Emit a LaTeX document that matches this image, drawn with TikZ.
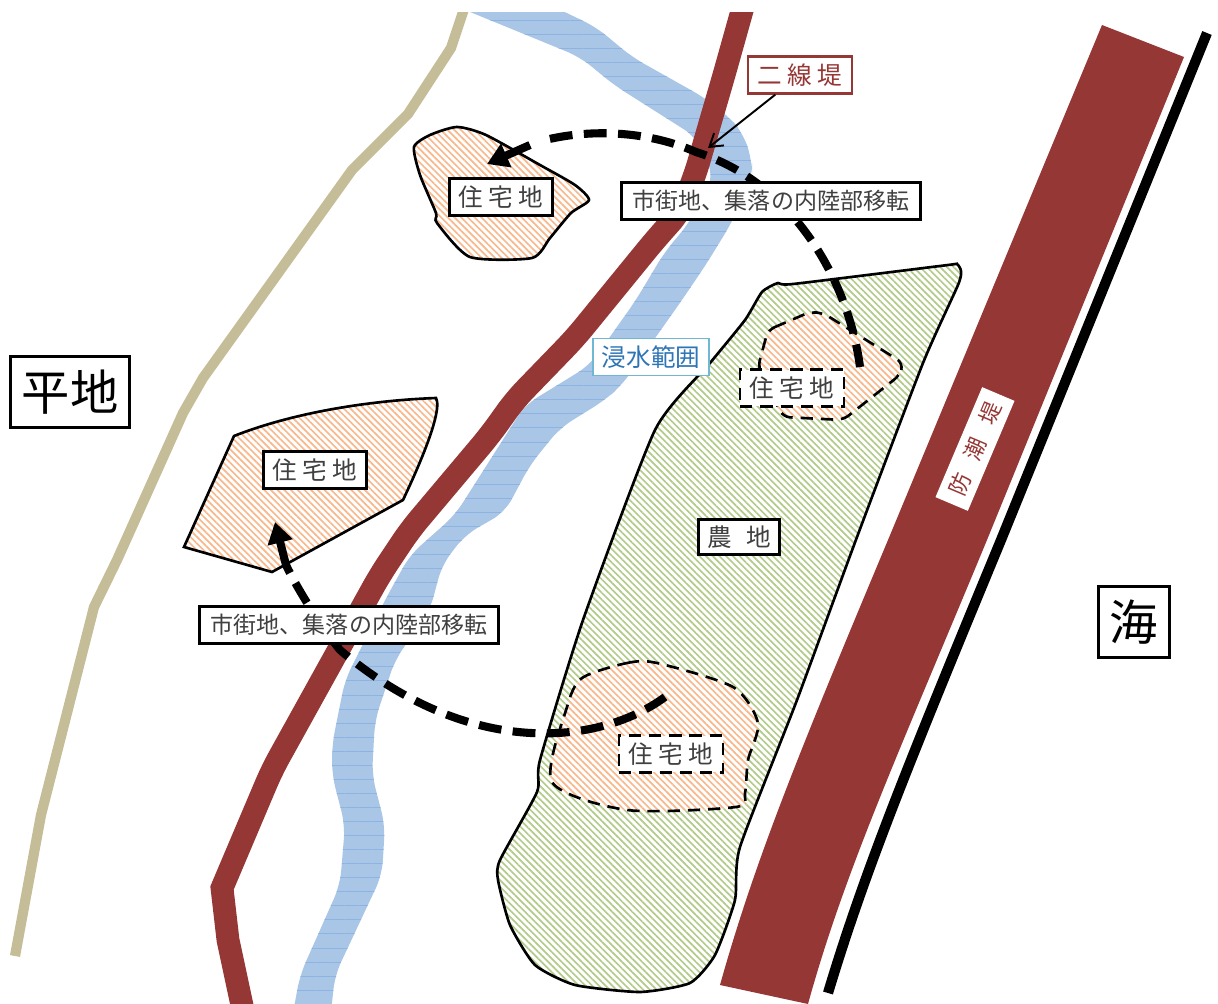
\documentclass[tikz,border=0pt]{standalone}
\usepackage{fontspec}
\setmainfont{Noto Sans CJK JP}
\usetikzlibrary{patterns.meta,arrows.meta}
\definecolor{dikered}{HTML}{953735}
\definecolor{hillbeige}{HTML}{C4BD97}
\definecolor{riverblue}{HTML}{A9C6E7}
\definecolor{riverline}{HTML}{8DB3E2}
\definecolor{homeorange}{HTML}{F9B88C}
\definecolor{farmgreen}{HTML}{B3CB8A}
\definecolor{labelgray}{HTML}{404040}
\definecolor{floodblue}{HTML}{2E75B6}
\definecolor{floodedge}{HTML}{6FB7D2}
\begin{document}
\begin{tikzpicture}
    [
    x=0.02cm,y=-0.02cm,
    river/.style={fill=riverblue,postaction={pattern={Lines[angle=0,distance=8pt,line width=0.3pt]},pattern color=riverline}},
    home/.style={preaction={fill=white},preaction={pattern={Lines[angle=-45,distance=2.7pt,line width=0.95pt]},pattern color=homeorange}},
    farm/.style={preaction={fill=white},preaction={pattern={Lines[angle=-45,distance=2.7pt,line width=0.95pt]},pattern color=farmgreen}},
    outline/.style={draw=black,line width=1.5pt},
    zoneline/.style={draw=black,line width=1.5pt,dash pattern=on 7pt off 4.5pt},
    tag/.style={draw=black,fill=white,line width=1.6pt,text=labelgray,font=\fontsize{14}{16}\selectfont,inner sep=0pt,minimum height=21pt,minimum width=59pt},
    dashtag/.style={tag,line width=1.5pt,dash pattern=on 7pt off 4.5pt},
    movetag/.style={tag,font=\fontsize{13.1}{15}\selectfont,minimum width=170pt},
    landtag/.style={draw=black,fill=white,line width=1.6pt,text=black,font=\fontsize{27.5}{30}\selectfont,inner sep=0pt},
    moveline/.style={line width=4.6pt,dash pattern=on 13pt off 6.5pt},
    movehead/.style={line width=4.6pt,-{Triangle[length=12pt,width=14pt]}}
    ]
    \useasboundingbox (0,0) rectangle (1218,1004);
    \clip (0,12) rectangle (1218,1004);
    % river, plain and inner dike
    \path [river,rounded corners=8pt] (453,5) -- (550,5) -- (596,27) -- (632,57) -- (705,98) -- (729,117) -- (743,133) -- (752,160) -- (752,177) -- (732,222)
        -- (707,263) -- (682,300) -- (622,385) -- (605,400) -- (560,428) -- (530,465) -- (505,512) -- (465,535) -- (442,565) -- (430,610) -- (395,660) -- (375,720)
        -- (372,775) -- (385,825) -- (382,875) -- (335,975) -- (328,1040) -- (288,1040) -- (300,975) -- (340,885) -- (345,825) -- (332,775)
        -- (332,745) -- (345,680) -- (385,600) -- (410,555) -- (455,515) -- (490,460) -- (525,405) -- (590,365) -- (636,300) -- (664,253) -- (689,223)
        -- (714,177) -- (696,137) -- (614,85) -- (580,57) -- cycle;
    \draw [hillbeige,line width=5.8pt] (467,0) -- (451,48) -- (408,114) -- (352,170) -- (203,378) -- (183,413) -- (117,560) -- (94,607) -- (41,815) -- (15,956);
    \draw [dikered,line width=13pt,rounded corners=8pt] (745,0) -- (724,75) -- (708,130) -- (695,175) -- (680,212) -- (655,240) -- (575,338) -- (515,400) -- (490,435) -- (410,530) -- (380,575) -- (272,770) [sharp corners] -- (222,888) -- (228,940) -- (243,1010);
    % sea dike and sea wall
    \path [fill=dikered] (1102,25) -- (1184,57) -- (987,540) .. controls (900,750) and (845,870) .. (808,1004) -- (720,985) .. controls (755,860) and (800,750) .. (888,540) -- cycle;
    \draw [black,line width=5.8pt] (1207,33) -- (1001,540) .. controls (910,760) and (865,870) .. (828,993);
    % farmland and living areas
    \path [farm,outline] plot [smooth cycle,tension=0.35] coordinates {(793,284) (948,265) (957,264) (961,271) (958,285) (923,363) (857,537) (797,700) (740,847) (735,900) (715,955) (690,983) (640,992) (575,985) (535,965) (510,925) (498,880) (500,860) (537,792) (540,760) (583,620) (655,430) (710,363) (745,320) (762,292) (778,283)};
    \path [home,outline] plot [smooth cycle,tension=0.4] coordinates {(414,147) (430,135) (457,127) (486,135) (540,165) (575,185) (589,200) (571,213) (550,238) (532,258) (470,257) (437,223) (436,213) (420,175)};
    \path [home,outline] (234,436) .. controls (300,410) and (380,400) .. (436,398) .. controls (440,405) and (436,430) .. (403,500) -- (272,572) -- (184,547) -- cycle;
    \path [home,zoneline,rounded corners=4pt] (768,330) -- (810,312) -- (823,313) -- (903,363) -- (900,375) -- (843,420) -- (783,417) -- (758,367) -- cycle;
    \path [home,zoneline] plot [smooth cycle,tension=0.45] coordinates {(582,678) (627,663) (657,663) (733,687) (758,723) (748,760) (745,793) (736,807) (627,810) (552,782) (567,707)};
    % moving arrows
    \coordinate (upstart) at (860,367);
    \coordinate (upmid) at (696,152);
    \coordinate (upend) at (545,140);
    \coordinate (upbend) at (530,145);
    \coordinate (uptip) at (487,164);
    \coordinate (lowstart) at (665,697);
    \coordinate (lowmid) at (340,650);
    \coordinate (lowbend) at (286,565);
    \coordinate (lowtip) at (275,522);
    \draw [moveline] (upstart) .. controls (850,290) and (800,185) .. (upmid) .. controls (650,132) and (595,128) .. (upend);
    \draw [movehead] (upbend) -- (uptip);
    \draw [moveline] (lowstart) .. controls (600,745) and (470,760) .. (lowmid) .. controls (320,625) and (298,590) .. (lowbend);
    \draw [movehead] (lowbend) -- (lowtip);
    % labels
    \node (home1) at (501,197) [tag] {住 宅 地};
    \node (home2) at (315,470) [tag] {住 宅 地};
    \node (home3) at (792,388) [dashtag] {住 宅 地};
    \node (home4) at (671,754) [dashtag] {住 宅 地};
    \node (farmland) at (739,537) [tag,minimum width=46pt,minimum height=20pt] {農\hspace{0.6em}地};
    \node (move1) at (771,201) [movetag] {市街地、集落の内陸部移転};
    \node (move2) at (349,625) [movetag] {市街地、集落の内陸部移転};
    \node (innerdike) at (800,75) [tag,draw=dikered,text=dikered,line width=1.3pt] {二 線 堤};
    \node (flood) at (651,357) [tag,draw=floodedge,text=floodblue,line width=0.6pt,minimum width=66pt] {浸水範囲};
    \node (plain) at (70,392) [landtag,minimum width=68pt,minimum height=40pt] {平地};
    \node (sea) at (1134,622) [landtag,minimum width=40pt,minimum height=40pt] {海};
    \node (seadike) at (975,449) [fill=white,text=dikered,rotate=67,inner sep=0pt,minimum width=68pt,minimum height=20pt,font=\fontsize{12.5}{14}\selectfont] {防\hspace{0.75em}潮\hspace{0.75em}堤};
    \coordinate (innertip) at (708,148);
    \draw [-{Straight Barb[length=7pt,width=9pt]},line width=1.1pt] (innerdike) -- (innertip);
\end{tikzpicture}
\end{document}
